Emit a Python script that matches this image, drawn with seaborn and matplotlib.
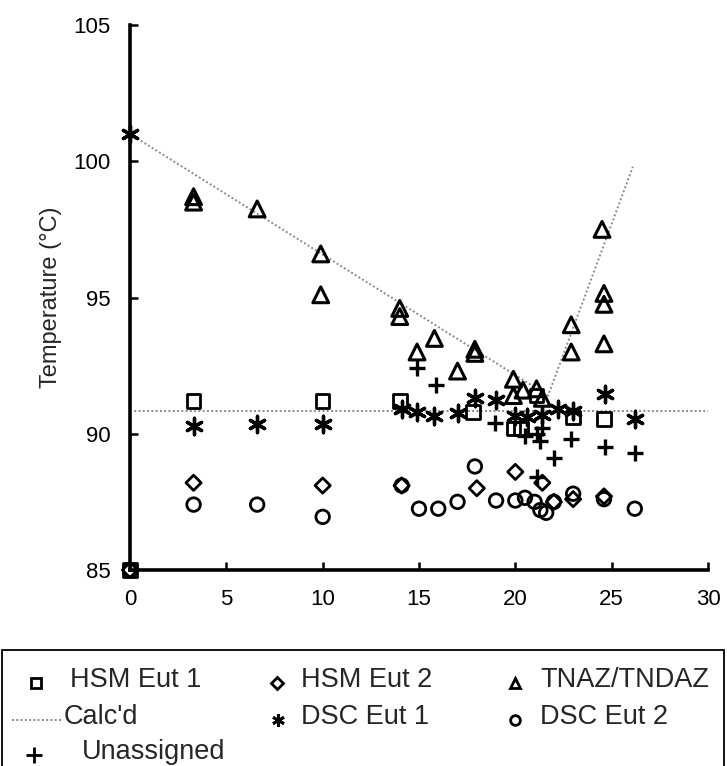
import matplotlib
matplotlib.use("Agg")
import matplotlib.pyplot as plt
import seaborn as sns
from matplotlib.lines import Line2D
from matplotlib.patches import Rectangle

# ---- data ----
hsm1_x = [0, 3.3, 10.0, 14.0, 17.8, 19.9, 20.3, 21.1, 23.0, 24.6]
hsm1_y = [85.0, 91.2, 91.2, 91.2, 90.8, 90.2, 90.2, 91.4, 90.6, 90.55]

hsm2_x = [0, 3.3, 10.0, 14.1, 18.0, 20.0, 21.4, 22.0, 23.0, 24.6]
hsm2_y = [85.0, 88.2, 88.1, 88.1, 88.0, 88.6, 88.2, 87.5, 87.6, 87.7]

tnaz_x = [3.3, 3.3, 6.6, 9.9, 9.9, 14.0, 14.0, 14.9, 15.8, 17.0, 17.9, 17.9,
          19.9, 19.9, 20.4, 21.1, 21.4, 22.9, 22.9, 24.5, 24.6, 24.6, 24.6]
tnaz_y = [98.7, 98.5, 98.25, 96.6, 95.1, 94.6, 94.3, 93.0, 93.5, 92.3, 93.1, 92.95,
          92.0, 91.4, 91.6, 91.65, 91.3, 94.0, 93.0, 97.5, 95.15, 94.75, 93.3]

dsc1_x = [0, 3.3, 6.6, 10.0, 14.1, 14.9, 15.8, 17.0, 17.9, 19.0, 20.0, 20.6,
          21.4, 22.2, 23.0, 24.65, 26.2]
dsc1_y = [101.0, 90.3, 90.35, 90.35, 90.9, 90.8, 90.65, 90.75, 91.3, 91.25, 90.65, 90.6,
          90.7, 90.9, 90.85, 91.45, 90.55]

dsc2_x = [0, 3.3, 6.6, 10.0, 14.1, 15.0, 16.0, 17.0, 17.9, 19.0, 20.0, 20.5,
          21.0, 21.3, 21.6, 22.0, 23.0, 24.6, 26.2]
dsc2_y = [85.0, 87.4, 87.4, 86.95, 88.1, 87.25, 87.25, 87.5, 88.8, 87.55, 87.55, 87.65,
          87.5, 87.2, 87.1, 87.5, 87.8, 87.6, 87.25]

unas_x = [14.9, 15.9, 18.95, 20.5, 21.1, 21.3, 21.4, 21.1, 22.0, 22.9, 24.65, 26.2]
unas_y = [92.4, 91.8, 90.4, 89.9, 90.0, 89.75, 90.2, 88.4, 89.1, 89.8, 89.5, 89.3]

calc_x = [0, 21.7, 26.1]
calc_y = [101.0, 91.4, 99.8]
calc_h_x = [0, 30]
calc_h_y = [90.85, 90.85]

x_ticks = [0, 5, 10, 15, 20, 25, 30]
y_ticks = [85, 90, 95, 100, 105]

legend_labels = ["HSM Eut 1", "HSM Eut 2", "TNAZ/TNDAZ",
                 "Calc'd", "DSC Eut 1", "DSC Eut 2", "Unassigned"]

# ---- plotting ----
sns.set_style("ticks")
plt.rcParams['font.family'] = ['Liberation Sans', 'DejaVu Sans']

W, H = 727, 766
fig = plt.figure(figsize=(W / 100, H / 100), dpi=100)
ax = fig.add_axes([130 / W, 1 - 570 / H, (708 - 130) / W, (570 - 25) / H])

calc_kw = dict(color="#8a8a8a", linestyle=(0, (1, 1.2)), linewidth=1.4)
sns.lineplot(x=calc_x, y=calc_y, ax=ax, **calc_kw)
sns.lineplot(x=calc_h_x, y=calc_h_y, ax=ax, **calc_kw)

lw = 2.0
common = dict(ax=ax, zorder=3, clip_on=False)
sns.scatterplot(x=hsm1_x, y=hsm1_y, marker="s", s=95, facecolors="none",
                edgecolor="black", linewidths=lw, **common)
sns.scatterplot(x=hsm2_x, y=hsm2_y, marker="D", s=60, facecolors="none",
                edgecolor="black", linewidths=lw, **common)
sns.scatterplot(x=tnaz_x, y=tnaz_y, marker="^", s=130, facecolors="none",
                edgecolor="black", linewidths=2.2, **common)
sns.scatterplot(x=dsc2_x, y=dsc2_y, marker="o", s=95, facecolors="none",
                edgecolor="black", linewidths=lw, **common)
sns.scatterplot(x=dsc1_x, y=dsc1_y, marker=(6, 2, 0), s=140, color="black",
                linewidths=2.4, **common)
sns.scatterplot(x=unas_x, y=unas_y, marker="+", s=130, color="black",
                linewidths=2.4, **common)

ax.set_xlim(0, 30)
ax.set_ylim(85, 105)
ax.set_xticks(x_ticks)
ax.set_yticks(y_ticks)
ax.set_xticklabels([str(t) for t in x_ticks], fontsize=16)
ax.set_yticklabels([str(t) for t in y_ticks], fontsize=16)
ax.set_ylabel("Temperature (°C)", fontsize=17, labelpad=8)
ax.set_xlabel("")
for s in ["top", "right"]:
    ax.spines[s].set_visible(False)
for s in ["left", "bottom"]:
    ax.spines[s].set_linewidth(2.6)
    ax.spines[s].set_color("black")
ax.tick_params(direction="in", length=6, width=1.8, colors="black")
ax.tick_params(axis="x", pad=14)
ax.tick_params(axis="y", pad=14)

# ---- legend (drawn manually in figure pixels) ----
def fx(px):
    return px / W

def fy(py):
    return 1 - py / H

frame = Rectangle((fx(2), fy(775)), fx(724) - fx(2), fy(650) - fy(775),
                  transform=fig.transFigure, fill=False, edgecolor="black",
                  linewidth=1.3)
fig.patches.append(frame)

rows = [680, 717, 752]
entries = [
    (legend_labels[0], dict(marker="s", markerfacecolor="none", markersize=7), 36, 70, rows[0]),
    (legend_labels[1], dict(marker="D", markerfacecolor="none", markersize=6), 277, 301, rows[0]),
    (legend_labels[2], dict(marker="^", markerfacecolor="none", markersize=7.5), 515, 540, rows[0]),
    (legend_labels[4], dict(marker=(6, 2, 0), markersize=9), 278, 301, rows[1]),
    (legend_labels[5], dict(marker="o", markerfacecolor="none", markersize=7), 515, 540, rows[1]),
    (legend_labels[6], dict(marker="+", markersize=11), 34, 82, rows[2]),
]
for lab, mkw, mx, tx, ry in entries:
    fig.add_artist(Line2D([fx(mx)], [fy(ry + 3)], transform=fig.transFigure,
                          linestyle="none", color="black", markeredgecolor="black",
                          markeredgewidth=2, **mkw))
    fig.text(fx(tx), fy(ry), lab, fontsize=19.5, va="center", ha="left")

fig.add_artist(Line2D([fx(12), fx(63)], [fy(rows[1] + 3)] * 2,
                      transform=fig.transFigure, **calc_kw))
fig.text(fx(64), fy(rows[1]), legend_labels[3], fontsize=19.5, va="center", ha="left")

fig.savefig("out.png", dpi=100, facecolor="white")
